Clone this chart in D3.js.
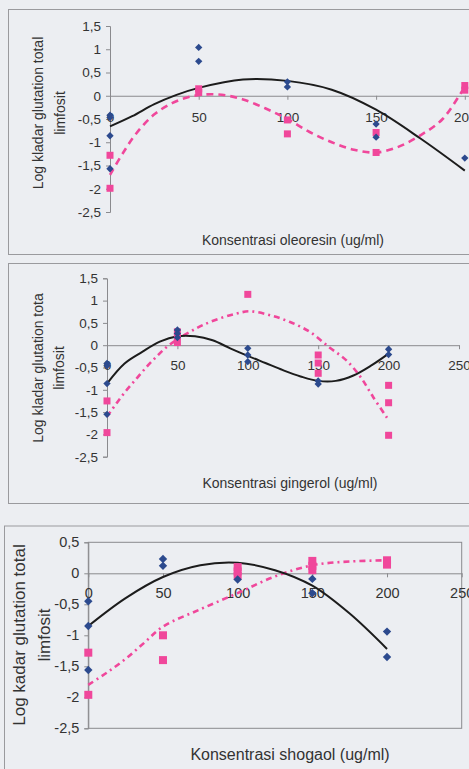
<!DOCTYPE html>
<html><head><meta charset="utf-8">
<script src="https://cdn.jsdelivr.net/npm/d3@7/dist/d3.min.js"></script>
<style>
html,body{margin:0;padding:0;background:#eceef2;}
svg{display:block;}
text{font-family:"Liberation Sans",Arial,sans-serif;fill:#333;}
</style></head>
<body>
<svg id="c" width="469" height="769"></svg>
<script>
// ---------- DATA ----------
const xTickValues = [0, 50, 100, 150, 200, 250];
const yTicksA = [1.5, 1, 0.5, 0, -0.5, -1, -1.5, -2, -2.5];
const yTicksB = [0.5, 0, -0.5, -1, -1.5, -2, -2.5];

// Panel 1: oleoresin
const oleoBlueX = [0, 0, 0, 0, 50, 50, 100, 100, 150, 150, 200];
const oleoBlueY = [-0.42, -0.47, -0.86, -1.57, 1.04, 0.74, 0.3, 0.19, -0.61, -0.89, -1.34];
const oleoPinkX = [0, 0, 50, 50, 100, 100, 150, 150, 200, 200];
const oleoPinkY = [-1.28, -1.99, 0.15, 0.07, -0.52, -0.82, -0.79, -1.22, 0.22, 0.12];
const oleoBlackTrendX = [0, 12.5, 25, 37.5, 50, 75, 100, 125, 150, 175, 200];
const oleoBlackTrendY = [-0.66, -0.44, -0.18, 0.02, 0.17, 0.35, 0.32, 0.13, -0.3, -0.92, -1.61];
const oleoPinkTrendX = [0, 7.5, 15, 25, 35, 45, 55, 65, 75, 87.5, 100, 112.5, 125, 137.5, 150, 162.5, 175, 187.5, 200];
const oleoPinkTrendY = [-1.7, -1.22, -0.8, -0.4, -0.16, -0.02, 0.03, 0.01, -0.08, -0.27, -0.5, -0.78, -1.0, -1.16, -1.22, -1.1, -0.85, -0.5, 0.2];

// Panel 2: gingerol
const gingBlueX = [0, 0, 0, 0, 50, 50, 50, 100, 100, 100, 150, 150, 200, 200];
const gingBlueY = [-0.41, -0.46, -0.86, -1.55, 0.34, 0.26, 0.17, -0.07, -0.22, -0.37, -0.8, -0.87, -0.09, -0.21];
const gingPinkX = [0, 0, 50, 50, 50, 100, 150, 150, 150, 200, 200, 200];
const gingPinkY = [-1.25, -1.96, 0.3, 0.2, 0.06, 1.14, -0.22, -0.4, -0.63, -0.9, -1.29, -2.02];
const gingBlackTrendX = [0, 12.5, 25, 37.5, 50, 62.5, 75, 87.5, 100, 112.5, 125, 137.5, 150, 162.5, 175, 187.5, 200];
const gingBlackTrendY = [-0.86, -0.41, -0.15, 0.08, 0.2, 0.2, 0.11, -0.07, -0.24, -0.4, -0.56, -0.7, -0.8, -0.8, -0.68, -0.46, -0.19];
const gingPinkTrendX = [0, 12.8, 21, 28, 35, 42, 49.5, 59, 68, 80, 92, 101.5, 116, 130, 144, 158, 170, 180, 189, 200];
const gingPinkTrendY = [-1.6, -1.05, -0.75, -0.49, -0.26, -0.05, 0.12, 0.3, 0.45, 0.6, 0.71, 0.76, 0.67, 0.52, 0.3, -0.05, -0.34, -0.71, -1.16, -1.68];

// Panel 3: shogaol
const shogBlueX = [0, 0, 0, 50, 50, 100, 150, 150, 200, 200];
const shogBlueY = [-0.45, -0.85, -1.56, 0.23, 0.12, -0.1, -0.09, -0.32, -0.94, -1.35];
const shogPinkX = [0, 0, 50, 50, 100, 100, 100, 150, 150, 150, 200, 200];
const shogPinkY = [-1.28, -1.96, -1.0, -1.4, 0.1, 0.03, -0.04, 0.2, 0.12, 0.05, 0.21, 0.14];
const shogBlackTrendX = [0, 25, 50, 75, 100, 125, 150, 175, 200];
const shogBlackTrendY = [-0.85, -0.4, -0.06, 0.13, 0.17, 0.05, -0.2, -0.65, -1.22];
const shogPinkTrendX = [0, 12.5, 25, 37.5, 50, 75, 100, 125, 150, 175, 200];
const shogPinkTrendY = [-1.8, -1.6, -1.38, -1.12, -0.86, -0.58, -0.32, -0.05, 0.13, 0.19, 0.21];

const xTitles = ["Konsentrasi oleoresin (ug/ml)", "Konsentrasi gingerol (ug/ml)", "Konsentrasi shogaol (ug/ml)"];
const yTitles1 = ["Log kladar glutation total", "Log kladar glutation tota", "Log kadar glutation total"];
const yTitle2 = "limfosit";

// ---------- STYLE / LAYOUT ----------
const BLUE = "#2c4a8e", PINK = "#f0479b", BLACK = "#1c1c1c";
const zip = (xs, ys) => xs.map((x, i) => ({x: x, y: ys[i]}));
const fmt = v => String(v).replace(".", ",");

const panels = [
  {frame: {x: 8.5, y: 9.5, w: 480, h: 245}, x0: 110, x1: 553.5, yTop: 26, yBot: 212, yDom: [-2.5, 1.5], yTicks: yTicksA,
   box: false, tickFont: 13.5, xLabDy: 26, titleFont: 14, xTitle: xTitles[0], xTitleX: 293, xTitleY: 245,
   yT1: yTitles1[0], yT1x: 43, yT2x: 65, yTy: 113, yTitleFont: 14,
   blue: zip(oleoBlueX, oleoBlueY), pink: zip(oleoPinkX, oleoPinkY),
   bt: zip(oleoBlackTrendX, oleoBlackTrendY), pt: zip(oleoPinkTrendX, oleoPinkTrendY), dash: "7,5", mk: 7},
  {frame: {x: 8.5, y: 263.5, w: 480, h: 240}, x0: 107, x1: 459, yTop: 278.3, yBot: 456.7, yDom: [-2.5, 1.5], yTicks: yTicksA,
   box: false, tickFont: 13.5, xLabDy: 24.5, titleFont: 14, xTitle: xTitles[1], xTitleX: 290, xTitleY: 488,
   yT1: yTitles1[1], yT1x: 43, yT2x: 64, yTy: 368, yTitleFont: 14,
   blue: zip(gingBlueX, gingBlueY), pink: zip(gingPinkX, gingPinkY),
   bt: zip(gingBlackTrendX, gingBlackTrendY), pt: zip(gingPinkTrendX, gingPinkTrendY), dash: "6,4,2,4", mk: 7},
  {frame: {x: 4.5, y: 526, w: 480, h: 260}, x0: 88.3, x1: 461.7, yTop: 542.3, yBot: 728.3, yDom: [-2.5, 0.5], yTicks: yTicksB,
   box: true, tickFont: 14.5, xLabDy: 25, titleFont: 16, xTitle: xTitles[2], xTitleX: 290, xTitleY: 760,
   yT1: yTitles1[2], yT1x: 25, yT2x: 49.5, yTy: 635, yTitleFont: 17,
   blue: zip(shogBlueX, shogBlueY), pink: zip(shogPinkX, shogPinkY),
   bt: zip(shogBlackTrendX, shogBlackTrendY), pt: zip(shogPinkTrendX, shogPinkTrendY), dash: "6,4,2,4", mk: 8}
];

const svg = d3.select("#c");

panels.forEach(p => {
  const g = svg.append("g");
  g.append("rect").attr("x", p.frame.x).attr("y", p.frame.y).attr("width", p.frame.w).attr("height", p.frame.h)
    .attr("fill", "none").attr("stroke", "#9a9a9e").attr("stroke-width", 1);

  const x = d3.scaleLinear().domain([0, 250]).range([p.x0, p.x1]);
  const y = d3.scaleLinear().domain(p.yDom).range([p.yBot, p.yTop]);

  if (p.box) {
    g.append("rect").attr("x", p.x0).attr("y", p.yTop).attr("width", p.x1 - p.x0).attr("height", p.yBot - p.yTop)
      .attr("fill", "none").attr("stroke", "#8a8a8e").attr("stroke-width", 1);
  }

  // y axis
  const ya = d3.axisLeft(y).tickValues(p.yTicks).tickSize(4).tickPadding(5).tickFormat(fmt);
  const yg = g.append("g").attr("transform", `translate(${p.x0},0)`).call(ya);
  yg.select(".domain").attr("stroke", "#8a8a8e");
  yg.selectAll(".tick line").attr("stroke", "#8a8a8e");
  yg.selectAll(".tick text").attr("font-size", p.tickFont).attr("fill", "#333")
    .attr("font-family", '"Liberation Sans",Arial,sans-serif');

  // x axis at y = 0
  const xa = d3.axisBottom(x).tickValues(xTickValues).tickSize(4).tickSizeOuter(0).tickFormat(d3.format("d"));
  const xg = g.append("g").attr("transform", `translate(0,${y(0)})`).call(xa);
  xg.select(".domain").attr("stroke", "#8a8a8e");
  xg.selectAll(".tick line").attr("stroke", "#8a8a8e");
  xg.selectAll(".tick text").attr("font-size", p.tickFont).attr("fill", "#333").attr("dy", null)
    .attr("y", p.xLabDy).attr("font-family", '"Liberation Sans",Arial,sans-serif');

  // titles
  g.append("text").attr("x", p.xTitleX).attr("y", p.xTitleY).attr("text-anchor", "middle")
    .attr("font-size", p.titleFont).text(p.xTitle);
  g.append("text").attr("transform", `translate(${p.yT1x},${p.yTy}) rotate(-90)`).attr("text-anchor", "middle")
    .attr("font-size", p.yTitleFont).text(p.yT1);
  g.append("text").attr("transform", `translate(${p.yT2x},${p.yTy}) rotate(-90)`).attr("text-anchor", "middle")
    .attr("font-size", p.yTitleFont).text(yTitle2);

  // trend lines
  const line = d3.line().x(d => x(d.x)).y(d => y(d.y)).curve(d3.curveCatmullRom.alpha(0.5));
  g.append("path").attr("d", line(p.pt)).attr("fill", "none").attr("stroke", PINK)
    .attr("stroke-width", 2.6).attr("stroke-dasharray", p.dash);
  g.append("path").attr("d", line(p.bt)).attr("fill", "none").attr("stroke", BLACK).attr("stroke-width", 2);

  // markers
  const s = p.mk;
  g.selectAll(".sq").data(p.pink).enter().append("rect")
    .attr("x", d => x(d.x) - s / 2).attr("y", d => y(d.y) - s / 2).attr("width", s).attr("height", s)
    .attr("fill", PINK);
  g.selectAll(".dm").data(p.blue).enter().append("path")
    .attr("d", d3.symbol().type(d3.symbolDiamond2).size(s * s * 0.7))
    .attr("transform", d => `translate(${x(d.x)},${y(d.y)})`).attr("fill", BLUE);
});
</script>
</body></html>
